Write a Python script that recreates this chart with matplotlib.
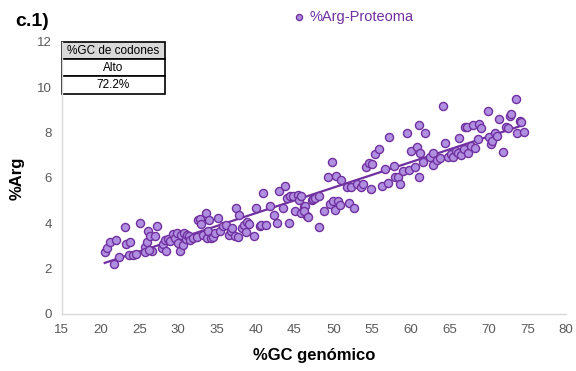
"""
Scatter of %Arg in proteome vs genomic %GC, with linear trend line.
Output: out.png
"""
import numpy as np
import matplotlib
matplotlib.use('Agg')
import matplotlib.pyplot as plt

plt.rcParams['font.family'] = ['Liberation Sans', 'DejaVu Sans']

# %GC genomico (x) and %Arg (y)
gc_genomico = [
    20.55, 20.8, 21.2, 22.0, 21.75, 22.4, 23.1, 23.3, 23.8, 23.7,
    24.2, 24.6, 25.1, 25.7, 25.7, 26.0, 26.1, 26.4, 27.0, 27.3,
    26.7, 26.3, 27.9, 28.0, 28.3, 28.4, 28.7, 28.9, 29.4, 29.6,
    29.8, 30.0, 30.3, 30.4, 30.6, 30.8, 31.0, 31.2, 31.4, 31.6,
    31.9, 32.4, 32.6, 32.8, 33.0, 33.2, 33.6, 33.7, 33.9, 34.0,
    34.2, 34.5, 34.8, 35.2, 35.4, 35.8, 36.2, 36.6, 36.8, 37.0,
    37.3, 37.5, 37.7, 37.8, 38.2, 38.5, 38.7, 38.9, 39.1, 39.8,
    40.1, 40.5, 40.7, 40.9, 41.3, 41.8, 42.3, 42.7, 43.0, 43.5,
    43.8, 44.0, 44.3, 44.4, 44.8, 45.0, 45.5, 45.6, 45.8, 46.2,
    46.6, 47.3, 48.1, 45.9, 46.4, 46.2, 46.8, 47.4, 47.7, 48.2,
    48.8, 49.3, 49.6, 49.8, 49.9, 50.2, 50.3, 50.6, 50.8, 51.0,
    51.8, 52.0, 52.3, 52.7, 53.1, 53.6, 53.8, 54.2, 54.6, 54.8,
    55.0, 55.4, 55.9, 56.3, 56.7, 57.0, 57.2, 57.8, 58.0, 58.3,
    58.6, 59.0, 59.5, 59.8, 60.0, 60.5, 60.8, 61.0, 61.1, 61.2,
    61.5, 61.8, 62.4, 62.8, 62.9, 63.3, 63.7, 64.1, 64.4, 64.8,
    65.1, 65.4, 65.8, 66.0, 66.2, 66.5, 66.8, 67.0, 67.2, 67.4,
    67.7, 68.0, 68.2, 68.6, 68.8, 69.0, 69.9, 70.0, 70.3, 70.5,
    70.8, 71.1, 71.4, 71.9, 72.2, 72.5, 72.7, 72.9, 73.5, 73.7,
    74.0, 74.2, 74.5,
]
arg_pct = [
    2.75, 2.9, 3.15, 3.26, 2.2, 2.53, 3.85, 3.09, 3.19, 2.6,
    2.6, 2.63, 4.03, 2.97, 2.75, 3.19, 3.66, 3.44, 3.44, 3.88,
    2.79, 2.8, 2.9, 3.1, 3.26, 2.79, 3.3, 3.2, 3.53, 3.35,
    3.56, 3.12, 2.79, 3.5, 3.05, 3.56, 3.3, 3.5, 3.42, 3.26,
    3.35, 3.41, 4.15, 4.2, 3.95, 3.5, 4.44, 3.35, 3.65, 4.15,
    3.35, 3.38, 3.56, 4.21, 3.65, 3.88, 3.94, 3.5, 3.65, 3.78,
    3.45, 4.65, 3.4, 4.37, 3.78, 3.94, 3.6, 4.06, 3.97, 3.44,
    4.65, 3.88, 3.94, 5.32, 3.91, 4.74, 4.37, 4.0, 5.4, 4.65,
    5.65, 5.1, 4.0, 5.18, 5.18, 4.56, 5.25, 5.03, 4.45, 4.71,
    4.3, 5.03, 3.85, 5.18, 4.76, 4.53, 4.29, 5.06, 5.1, 5.18,
    4.54, 6.06, 4.87, 6.69, 4.97, 4.6, 6.1, 4.97, 4.79, 5.9,
    5.58, 4.91, 5.58, 4.68, 5.73, 5.58, 5.73, 6.47, 6.64, 5.5,
    6.62, 7.06, 7.26, 5.64, 6.38, 5.76, 7.79, 6.53, 6.03, 6.06,
    5.72, 6.31, 7.97, 6.33, 7.2, 6.5, 7.38, 6.04, 8.35, 7.09,
    6.7, 7.97, 6.91, 7.09, 6.58, 6.8, 6.86, 9.17, 7.53, 6.91,
    7.06, 6.91, 7.2, 7.12, 7.75, 7.0, 7.26, 8.26, 8.23, 7.12,
    7.41, 8.35, 7.3, 7.7, 8.38, 8.2, 8.97, 7.79, 7.48, 7.64,
    7.97, 7.85, 8.58, 7.13, 8.26, 8.19, 8.73, 8.82, 9.47, 7.97,
    8.53, 8.45, 8.04,
]

table_rows = ["%GC de codones", "Alto", "72.2%"]

PURPLE = '#7030a0'
FILL = '#b08fe0'
GRAY = '#595959'


def main():
    x = np.array(gc_genomico)
    y = np.array(arg_pct)

    fig = plt.figure(figsize=(5.76, 3.71), dpi=100)
    ax = fig.add_axes([0.107, 0.154, 0.876, 0.733])

    ax.scatter(x, y, s=34, facecolor=FILL, edgecolor=PURPLE, linewidth=1.0,
               zorder=3, label='%Arg-Proteoma')
    slope, icpt = np.polyfit(x, y, 1)
    xl = np.array([x.min(), x.max()])
    ax.plot(xl, slope * xl + icpt, color=PURPLE, linewidth=1.6, zorder=2)

    ax.set_xlim(15, 80)
    ax.set_ylim(0, 12)
    ax.set_xticks(np.arange(15, 81, 5))
    ax.set_yticks(np.arange(0, 13, 2))
    ax.tick_params(length=0, labelsize=9.5, colors=GRAY, pad=7)
    for s in ('top', 'right'):
        ax.spines[s].set_visible(False)
    for s in ('left', 'bottom'):
        ax.spines[s].set_color('#d9d9d9')
        ax.spines[s].set_linewidth(1.0)

    ax.set_xlabel("%GC genómico", fontsize=12, fontweight='bold', labelpad=9)
    ax.set_ylabel("%Arg", fontsize=12, fontweight='bold', labelpad=9)

    leg = ax.legend(loc='upper center', bbox_to_anchor=(0.578, 1.165), frameon=False,
                    fontsize=10.5, handlelength=0.8, handletextpad=0.3,
                    markerscale=0.75)
    for t in leg.get_texts():
        t.set_color(PURPLE)

    tab = ax.table(cellText=[[r] for r in table_rows],
                   cellLoc='center', bbox=[0.0, 0.81, 0.205, 0.19])
    tab.auto_set_font_size(False)
    for (r, c), cell in tab.get_celld().items():
        cell.set_linewidth(1.2)
        cell.set_edgecolor('black')
        cell.get_text().set_fontsize(8.5)
        if r == 0:
            cell.set_facecolor('#d9d9d9')

    fig.text(0.026, 0.93, "c.1)", fontsize=14, fontweight='bold')

    plt.savefig('out.png', dpi=100)


if __name__ == "__main__":
    main()
